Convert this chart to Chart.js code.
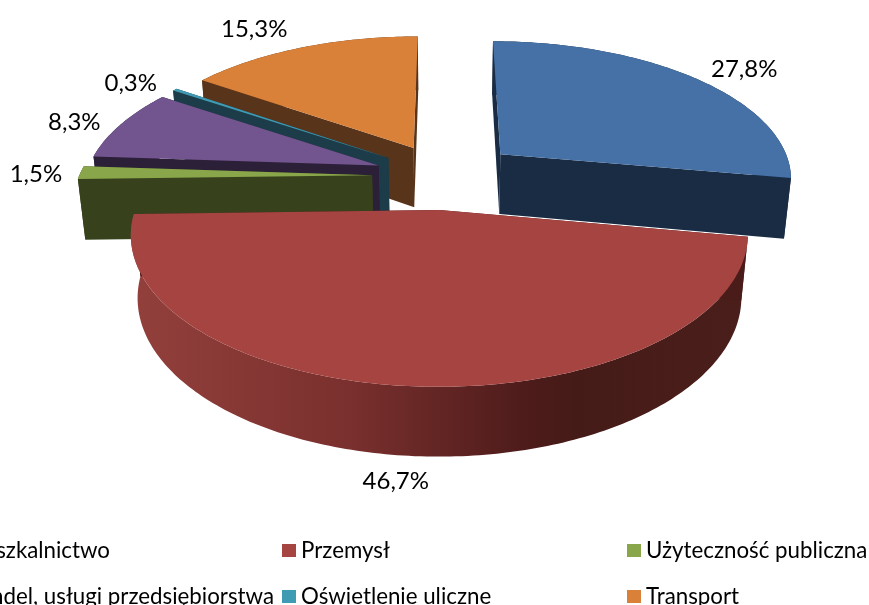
<!DOCTYPE html>
<html>
<head>
<meta charset="utf-8">
<title>Struktura zużycia</title>
<script src="https://cdn.jsdelivr.net/npm/chart.js@4"></script>
<style>
  html, body { margin: 0; padding: 0; background: #fff; overflow: hidden; }
  canvas { display: block; }
</style>
</head>
<body>
<canvas id="pie3d" width="869" height="605"></canvas>
<script>
// chart data
const categories = ["Mieszkalnictwo", "Przemysł", "Użyteczność publiczna", "Handel, usługi przedsiębiorstwa", "Oświetlenie uliczne", "Transport"];
const shares = [27.8, 46.7, 1.5, 8.3, 0.3, 15.3];
const topColors = ["#4571a6", "#a64441", "#8aa64a", "#72558f", "#3f9ab3", "#d98039"];
const wallColors = ["#1a2c44", "#4a1c19", "#37421d", "#2c2039", "#1b3c48", "#58341a"];

// view settings of the fake 3D pie
const depth = 1864;     // perspective distance
const tilt = 0.468;     // vertical squash of the disc
const thick = 62;       // height of the slices
const sink = 0.62;      // lower edge of a wall is a bit further away
const labelGap = 44;
const labelNudge = [[23, 1], [-10, 62], [-1, 2], [-10, 4], [-15, 3], [-33, -5]];

function project(cx, cy, x, z, h) {
  const s = depth / (depth + z + sink * h);
  return [cx + x * s, cy + (h - z * tilt) * s];
}

// walk over a slice, angle 0 is 12 o'clock going clockwise
function slicePoints(arc, h) {
  const a0 = arc.startAngle + Math.PI / 2;
  const a1 = arc.endAngle + Math.PI / 2;
  const mid = (a0 + a1) / 2;
  const off = arc.options.offset;
  const ox = off * Math.sin(mid);
  const oz = off * Math.cos(mid);
  const pts = [];
  const steps = Math.max(2, Math.ceil((a1 - a0) * 60));
  for (let i = 0; i <= steps; i++) {
    const a = a0 + (a1 - a0) * i / steps;
    pts.push(project(arc.x, arc.y, ox + arc.outerRadius * Math.sin(a), oz + arc.outerRadius * Math.cos(a), h));
  }
  return { rim: pts, apex: project(arc.x, arc.y, ox, oz, h) };
}

function fillPoly(ctx, pts, fill) {
  ctx.beginPath();
  pts.forEach((p, i) => (i ? ctx.lineTo(p[0], p[1]) : ctx.moveTo(p[0], p[1])));
  ctx.closePath();
  ctx.fillStyle = fill;
  ctx.fill();
}

const pie3dPlugin = {
  id: "pie3d",
  beforeDatasetDraw(chart, args) {
    const ctx = chart.ctx;
    const arcs = args.meta.data;
    // back slices first, red front slice last
    const order = arcs.map((a, i) => i).sort((p, q) => {
      const m = i => (arcs[i].startAngle + arcs[i].endAngle) / 2 + Math.PI / 2;
      return Math.cos(m(q)) - Math.cos(m(p));
    });
    order.forEach(i => {
      const arc = arcs[i];
      const top = slicePoints(arc, 0);
      const bottom = slicePoints(arc, thick);
      // walls
      let wallFill = wallColors[i];
      if (i === 1) {
        const xs = top.rim.map(p => p[0]);
        const left = Math.min(...xs);
        const right = Math.max(...xs);
        wallFill = ctx.createLinearGradient(left, 0, right, 0);
        wallFill.addColorStop(0, "#93403c");
        wallFill.addColorStop(0.35, "#7a302e");
        wallFill.addColorStop(0.65, "#4c1b1a");
        wallFill.addColorStop(0.72, "#451b18");
        wallFill.addColorStop(1, "#4a1e1b");
      }
      fillPoly(ctx, top.rim.concat(bottom.rim.slice().reverse()), wallFill);
      const n = top.rim.length - 1;
      fillPoly(ctx, [top.apex, top.rim[0], bottom.rim[0], bottom.apex], wallColors[i]);
      fillPoly(ctx, [top.apex, top.rim[n], bottom.rim[n], bottom.apex], wallColors[i]);
      // upper face
      fillPoly(ctx, [top.apex].concat(top.rim), topColors[i]);
    });
    return false;
  },
  afterDatasetsDraw(chart) {
    const ctx = chart.ctx;
    const arcs = chart.getDatasetMeta(0).data;
    ctx.save();
    ctx.fillStyle = "#000";
    ctx.font = "24px Lato";
    ctx.textAlign = "center";
    ctx.textBaseline = "middle";
    arcs.forEach((arc, i) => {
      const mid = (arc.startAngle + arc.endAngle) / 2 + Math.PI / 2;
      const r = arc.outerRadius + arc.options.offset + labelGap;
      const p = project(arc.x, arc.y, r * Math.sin(mid), r * Math.cos(mid), 0);
      const text = shares[i].toFixed(1).replace(".", ",") + "%";
      ctx.fillText(text, p[0] + labelNudge[i][0], p[1] + labelNudge[i][1]);
    });
    ctx.restore();
  }
};

// legend of the original runs off the left side of the picture,
// the first column is placed by where its text ends
const legendPlugin = {
  id: "cutLegend",
  afterDraw(chart) {
    const ctx = chart.ctx;
    const firstColEnd = [110, 274];
    const colX = [null, 301, 646];
    const rowY = [551, 597];
    ctx.save();
    ctx.font = "22.3px Lato";
    ctx.textBaseline = "middle";
    categories.forEach((name, i) => {
      const col = i % 3;
      const row = Math.floor(i / 3);
      const y = rowY[row];
      ctx.fillStyle = "#000";
      if (col === 0) {
        ctx.textAlign = "right";
        ctx.fillText(name, firstColEnd[row], y);
        return;
      }
      ctx.textAlign = "left";
      ctx.fillText(name, colX[col], y);
      ctx.fillStyle = topColors[i];
      ctx.fillRect(colX[col] - 19, y - 7, 14, 13);
    });
    ctx.restore();
  }
};

document.addEventListener("DOMContentLoaded", () => {
  new Chart(document.getElementById("pie3d"), {
    type: "pie",
    data: {
      labels: categories,
      datasets: [{
        data: shares,
        backgroundColor: topColors,
        borderWidth: 0,
        offset: [74, 70, 73, 71, 70, 70],
        radius: 293
      }]
    },
    options: {
      responsive: false,
      animation: false,
      layout: { padding: { left: 21, bottom: 253 } },
      plugins: { legend: { display: false }, tooltip: { enabled: false } }
    },
    plugins: [pie3dPlugin, legendPlugin]
  });
});
</script>
</body>
</html>
